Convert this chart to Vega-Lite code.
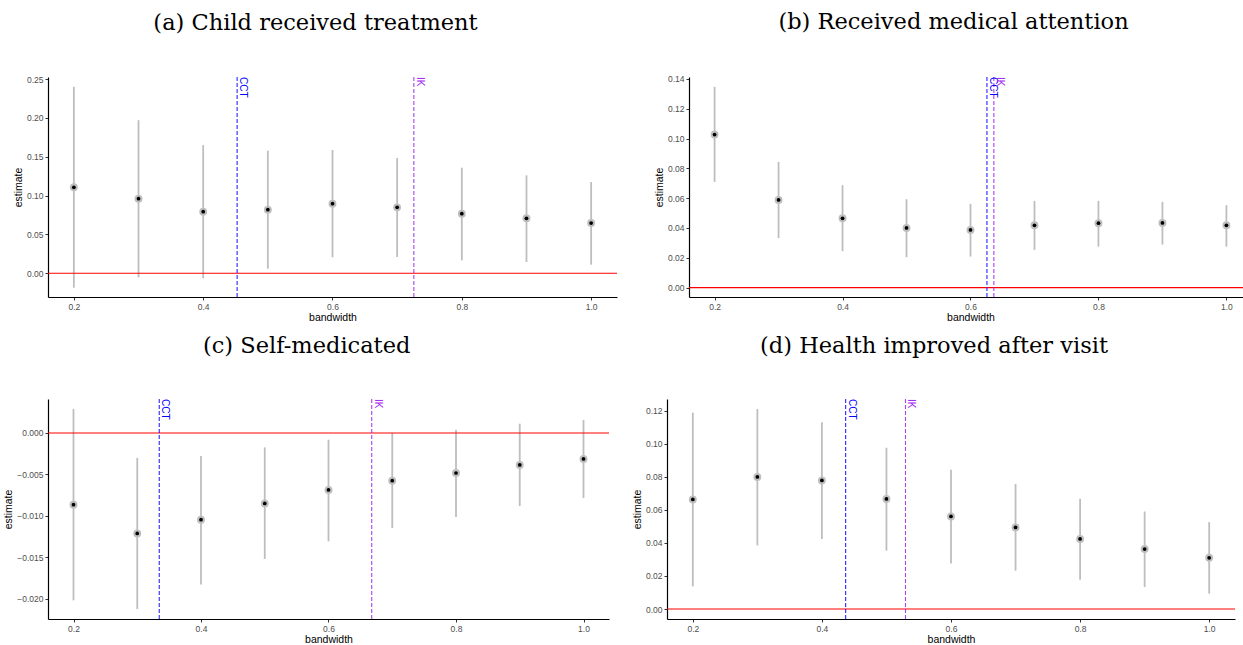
{
  "$schema": "https://vega.github.io/schema/vega-lite/v6.json",
  "background": "white",
  "padding": {"left": 3, "top": 11, "right": 0, "bottom": 0},
  "config": {
    "view": {"stroke": null},
    "axis": {
      "grid": false,
      "domainColor": "#000000",
      "domainWidth": 1.2,
      "tickColor": "#333333",
      "tickSize": 3,
      "tickWidth": 1,
      "labelFont": "Liberation Sans",
      "labelFontSize": 8.5,
      "labelColor": "#4d4d4d",
      "labelPadding": 2,
      "labelOverlap": false,
      "titleFont": "Liberation Sans",
      "titleFontSize": 10.5,
      "titleFontWeight": "normal",
      "titleColor": "#000000",
      "titlePadding": 3
    },
    "axisX": {"titlePadding": 1.5},
    "title": {
      "font": "DejaVu Serif",
      "fontSize": 22.5,
      "fontWeight": "normal",
      "color": "#000000",
      "anchor": "middle",
      "frame": "bounds",
      "baseline": "alphabetic",
      "offset": 41
    }
  },
  "datasets": {
    "estimates": [
      {"panel": "a", "bandwidth": 0.2, "estimate": 0.1107, "lower": -0.0185, "upper": 0.240},
      {"panel": "a", "bandwidth": 0.3, "estimate": 0.0960, "lower": -0.0052, "upper": 0.197},
      {"panel": "a", "bandwidth": 0.4, "estimate": 0.0793, "lower": -0.0064, "upper": 0.165},
      {"panel": "a", "bandwidth": 0.5, "estimate": 0.0819, "lower": 0.0059, "upper": 0.1578},
      {"panel": "a", "bandwidth": 0.6, "estimate": 0.0896, "lower": 0.0206, "upper": 0.1587},
      {"panel": "a", "bandwidth": 0.7, "estimate": 0.0849, "lower": 0.0210, "upper": 0.1484},
      {"panel": "a", "bandwidth": 0.8, "estimate": 0.0767, "lower": 0.0167, "upper": 0.1359},
      {"panel": "a", "bandwidth": 0.9, "estimate": 0.0708, "lower": 0.0145, "upper": 0.1261},
      {"panel": "a", "bandwidth": 1.0, "estimate": 0.0647, "lower": 0.0111, "upper": 0.1175},
      {"panel": "b", "bandwidth": 0.2, "estimate": 0.1027, "lower": 0.0709, "upper": 0.1347},
      {"panel": "b", "bandwidth": 0.3, "estimate": 0.0588, "lower": 0.0333, "upper": 0.0843},
      {"panel": "b", "bandwidth": 0.4, "estimate": 0.0465, "lower": 0.0244, "upper": 0.0687},
      {"panel": "b", "bandwidth": 0.5, "estimate": 0.0400, "lower": 0.0204, "upper": 0.0593},
      {"panel": "b", "bandwidth": 0.6, "estimate": 0.0387, "lower": 0.0208, "upper": 0.0562},
      {"panel": "b", "bandwidth": 0.7, "estimate": 0.0418, "lower": 0.0253, "upper": 0.0582},
      {"panel": "b", "bandwidth": 0.8, "estimate": 0.0432, "lower": 0.0275, "upper": 0.0582},
      {"panel": "b", "bandwidth": 0.9, "estimate": 0.0434, "lower": 0.0289, "upper": 0.0575},
      {"panel": "b", "bandwidth": 1.0, "estimate": 0.0418, "lower": 0.0275, "upper": 0.0553},
      {"panel": "c", "bandwidth": 0.2, "estimate": -0.00866, "lower": -0.0202, "upper": 0.0029},
      {"panel": "c", "bandwidth": 0.3, "estimate": -0.01212, "lower": -0.02125, "upper": -0.0030},
      {"panel": "c", "bandwidth": 0.4, "estimate": -0.01047, "lower": -0.01828, "upper": -0.00278},
      {"panel": "c", "bandwidth": 0.5, "estimate": -0.0085, "lower": -0.01521, "upper": -0.00174},
      {"panel": "c", "bandwidth": 0.6, "estimate": -0.00688, "lower": -0.01308, "upper": -0.00081},
      {"panel": "c", "bandwidth": 0.7, "estimate": -0.00576, "lower": -0.01147, "upper": 0.0000},
      {"panel": "c", "bandwidth": 0.8, "estimate": -0.00483, "lower": -0.01014, "upper": 0.0004},
      {"panel": "c", "bandwidth": 0.9, "estimate": -0.00386, "lower": -0.00881, "upper": 0.00112},
      {"panel": "c", "bandwidth": 1.0, "estimate": -0.00314, "lower": -0.00785, "upper": 0.00157},
      {"panel": "d", "bandwidth": 0.2, "estimate": 0.0663, "lower": 0.0137, "upper": 0.1188},
      {"panel": "d", "bandwidth": 0.3, "estimate": 0.0799, "lower": 0.0385, "upper": 0.1210},
      {"panel": "d", "bandwidth": 0.4, "estimate": 0.0778, "lower": 0.0424, "upper": 0.1131},
      {"panel": "d", "bandwidth": 0.5, "estimate": 0.0666, "lower": 0.0353, "upper": 0.0976},
      {"panel": "d", "bandwidth": 0.6, "estimate": 0.0560, "lower": 0.0276, "upper": 0.0843},
      {"panel": "d", "bandwidth": 0.7, "estimate": 0.0494, "lower": 0.0232, "upper": 0.0756},
      {"panel": "d", "bandwidth": 0.8, "estimate": 0.0424, "lower": 0.0177, "upper": 0.0667},
      {"panel": "d", "bandwidth": 0.9, "estimate": 0.0363, "lower": 0.0133, "upper": 0.0590},
      {"panel": "d", "bandwidth": 1.0, "estimate": 0.0310, "lower": 0.0093, "upper": 0.0526}
    ],
    "cutoffs": [
      {"panel": "a", "method": "CCT", "bandwidth": 0.4525},
      {"panel": "a", "method": "IK", "bandwidth": 0.7258},
      {"panel": "b", "method": "CCT", "bandwidth": 0.6257},
      {"panel": "b", "method": "IK", "bandwidth": 0.6365},
      {"panel": "c", "method": "CCT", "bandwidth": 0.3345},
      {"panel": "c", "method": "IK", "bandwidth": 0.6678},
      {"panel": "d", "method": "CCT", "bandwidth": 0.4368},
      {"panel": "d", "method": "IK", "bandwidth": 0.5295}
    ],
    "zero": [{"value": 0}]
  },
  "vconcat": [
    {
      "hconcat": [
        {
          "title": {"text": "(a) Child received treatment"},
          "width": 569, "height": 220,
          "layer": [
            {"data": {"name": "estimates"}, "transform": [{"filter": "datum.panel === 'a'"}],
             "mark": {"type": "rule", "color": "#bebebe", "strokeWidth": 1.8},
             "encoding": {
               "x": {"field": "bandwidth", "type": "quantitative", "scale": {"domain": [0.16, 1.04], "nice": false, "zero": false}, "axis": {"title": "bandwidth", "values": [0.2, 0.4, 0.6, 0.8, 1.0], "format": ".1f", "labelOverlap": false}},
               "y": {"field": "lower", "type": "quantitative", "scale": {"domain": [-0.0305, 0.2526], "nice": false, "zero": false}, "axis": {"title": "estimate", "values": [0, 0.05, 0.1, 0.15, 0.2, 0.25], "format": ".2f", "labelOverlap": false}},
               "y2": {"field": "upper"}}},
            {"data": {"name": "zero"}, "mark": {"type": "rule", "color": "#ff0000", "strokeWidth": 1.1},
             "encoding": {"y": {"field": "value", "type": "quantitative"}}},
            {"data": {"name": "cutoffs"}, "transform": [{"filter": "datum.panel === 'a'"}],
             "mark": {"type": "rule", "strokeDash": [4, 2], "strokeWidth": 1.1, "opacity": 0.85},
             "encoding": {"x": {"field": "bandwidth", "type": "quantitative"},
               "color": {"field": "method", "type": "nominal", "scale": {"domain": ["CCT", "IK"], "range": ["#0000ff", "#a020f0"]}, "legend": null}}},
            {"data": {"name": "cutoffs"}, "transform": [{"filter": "datum.panel === 'a'"}],
             "mark": {"type": "text", "angle": 90, "align": "left", "baseline": "bottom", "font": "Liberation Sans", "fontSize": 10, "dy": -1},
             "encoding": {"x": {"field": "bandwidth", "type": "quantitative"}, "y": {"datum": 0.2526}, "text": {"field": "method"},
               "color": {"field": "method", "type": "nominal", "scale": {"domain": ["CCT", "IK"], "range": ["#0000ff", "#a020f0"]}, "legend": null}}},
            {"data": {"name": "estimates"}, "transform": [{"filter": "datum.panel === 'a'"}],
             "mark": {"type": "circle", "color": "#bebebe", "opacity": 1, "size": 62},
             "encoding": {"x": {"field": "bandwidth", "type": "quantitative"}, "y": {"field": "estimate", "type": "quantitative"}}},
            {"data": {"name": "estimates"}, "transform": [{"filter": "datum.panel === 'a'"}],
             "mark": {"type": "circle", "color": "#000000", "opacity": 1, "size": 14},
             "encoding": {"x": {"field": "bandwidth", "type": "quantitative"}, "y": {"field": "estimate", "type": "quantitative"}}}
          ]
        },
        {
          "title": {"text": "(b) Received medical attention"},
          "width": 563, "height": 220,
          "layer": [
            {"data": {"name": "estimates"}, "transform": [{"filter": "datum.panel === 'b'"}],
             "mark": {"type": "rule", "color": "#bebebe", "strokeWidth": 1.8},
             "encoding": {
               "x": {"field": "bandwidth", "type": "quantitative", "scale": {"domain": [0.16, 1.04], "nice": false, "zero": false}, "axis": {"title": "bandwidth", "values": [0.2, 0.4, 0.6, 0.8, 1.0], "format": ".1f", "labelOverlap": false}},
               "y": {"field": "lower", "type": "quantitative", "scale": {"domain": [-0.0063, 0.1413], "nice": false, "zero": false}, "axis": {"title": "estimate", "values": [0, 0.02, 0.04, 0.06, 0.08, 0.1, 0.12, 0.14], "format": ".2f", "labelOverlap": false, "tickCount": 8}},
               "y2": {"field": "upper"}}},
            {"data": {"name": "zero"}, "mark": {"type": "rule", "color": "#ff0000", "strokeWidth": 1.1},
             "encoding": {"y": {"field": "value", "type": "quantitative"}}},
            {"data": {"name": "cutoffs"}, "transform": [{"filter": "datum.panel === 'b'"}],
             "mark": {"type": "rule", "strokeDash": [4, 2], "strokeWidth": 1.1, "opacity": 0.85},
             "encoding": {"x": {"field": "bandwidth", "type": "quantitative"},
               "color": {"field": "method", "type": "nominal", "scale": {"domain": ["CCT", "IK"], "range": ["#0000ff", "#a020f0"]}, "legend": null}}},
            {"data": {"name": "cutoffs"}, "transform": [{"filter": "datum.panel === 'b'"}],
             "mark": {"type": "text", "angle": 90, "align": "left", "baseline": "bottom", "font": "Liberation Sans", "fontSize": 10, "dy": -1},
             "encoding": {"x": {"field": "bandwidth", "type": "quantitative"}, "y": {"datum": 0.1413}, "text": {"field": "method"},
               "color": {"field": "method", "type": "nominal", "scale": {"domain": ["CCT", "IK"], "range": ["#0000ff", "#a020f0"]}, "legend": null}}},
            {"data": {"name": "estimates"}, "transform": [{"filter": "datum.panel === 'b'"}],
             "mark": {"type": "circle", "color": "#bebebe", "opacity": 1, "size": 62},
             "encoding": {"x": {"field": "bandwidth", "type": "quantitative"}, "y": {"field": "estimate", "type": "quantitative"}}},
            {"data": {"name": "estimates"}, "transform": [{"filter": "datum.panel === 'b'"}],
             "mark": {"type": "circle", "color": "#000000", "opacity": 1, "size": 14},
             "encoding": {"x": {"field": "bandwidth", "type": "quantitative"}, "y": {"field": "estimate", "type": "quantitative"}}}
          ]
        }
      ],
      "spacing": 36
    },
    {
      "hconcat": [
        {
          "title": {"text": "(c) Self-medicated"},
          "width": 561, "height": 220,
          "layer": [
            {"data": {"name": "estimates"}, "transform": [{"filter": "datum.panel === 'c'"}],
             "mark": {"type": "rule", "color": "#bebebe", "strokeWidth": 1.8},
             "encoding": {
               "x": {"field": "bandwidth", "type": "quantitative", "scale": {"domain": [0.16, 1.04], "nice": false, "zero": false}, "axis": {"title": "bandwidth", "values": [0.2, 0.4, 0.6, 0.8, 1.0], "format": ".1f", "labelOverlap": false}},
               "y": {"field": "lower", "type": "quantitative", "scale": {"domain": [-0.02245, 0.0041], "nice": false, "zero": false}, "axis": {"title": "estimate", "values": [0, -0.005, -0.01, -0.015, -0.02], "format": ".3f", "labelOverlap": false}},
               "y2": {"field": "upper"}}},
            {"data": {"name": "zero"}, "mark": {"type": "rule", "color": "#ff0000", "strokeWidth": 1.1},
             "encoding": {"y": {"field": "value", "type": "quantitative"}}},
            {"data": {"name": "cutoffs"}, "transform": [{"filter": "datum.panel === 'c'"}],
             "mark": {"type": "rule", "strokeDash": [4, 2], "strokeWidth": 1.1, "opacity": 0.85},
             "encoding": {"x": {"field": "bandwidth", "type": "quantitative"},
               "color": {"field": "method", "type": "nominal", "scale": {"domain": ["CCT", "IK"], "range": ["#0000ff", "#a020f0"]}, "legend": null}}},
            {"data": {"name": "cutoffs"}, "transform": [{"filter": "datum.panel === 'c'"}],
             "mark": {"type": "text", "angle": 90, "align": "left", "baseline": "bottom", "font": "Liberation Sans", "fontSize": 10, "dy": -1},
             "encoding": {"x": {"field": "bandwidth", "type": "quantitative"}, "y": {"datum": 0.0041}, "text": {"field": "method"},
               "color": {"field": "method", "type": "nominal", "scale": {"domain": ["CCT", "IK"], "range": ["#0000ff", "#a020f0"]}, "legend": null}}},
            {"data": {"name": "estimates"}, "transform": [{"filter": "datum.panel === 'c'"}],
             "mark": {"type": "circle", "color": "#bebebe", "opacity": 1, "size": 62},
             "encoding": {"x": {"field": "bandwidth", "type": "quantitative"}, "y": {"field": "estimate", "type": "quantitative"}}},
            {"data": {"name": "estimates"}, "transform": [{"filter": "datum.panel === 'c'"}],
             "mark": {"type": "circle", "color": "#000000", "opacity": 1, "size": 14},
             "encoding": {"x": {"field": "bandwidth", "type": "quantitative"}, "y": {"field": "estimate", "type": "quantitative"}}}
          ]
        },
        {
          "title": {"text": "(d) Health improved after visit"},
          "width": 568, "height": 220,
          "layer": [
            {"data": {"name": "estimates"}, "transform": [{"filter": "datum.panel === 'd'"}],
             "mark": {"type": "rule", "color": "#bebebe", "strokeWidth": 1.8},
             "encoding": {
               "x": {"field": "bandwidth", "type": "quantitative", "scale": {"domain": [0.16, 1.04], "nice": false, "zero": false}, "axis": {"title": "bandwidth", "values": [0.2, 0.4, 0.6, 0.8, 1.0], "format": ".1f", "labelOverlap": false}},
               "y": {"field": "lower", "type": "quantitative", "scale": {"domain": [-0.00605, 0.1271], "nice": false, "zero": false}, "axis": {"title": "estimate", "values": [0, 0.02, 0.04, 0.06, 0.08, 0.1, 0.12], "format": ".2f", "labelOverlap": false, "tickCount": 7}},
               "y2": {"field": "upper"}}},
            {"data": {"name": "zero"}, "mark": {"type": "rule", "color": "#ff0000", "strokeWidth": 1.1},
             "encoding": {"y": {"field": "value", "type": "quantitative"}}},
            {"data": {"name": "cutoffs"}, "transform": [{"filter": "datum.panel === 'd'"}],
             "mark": {"type": "rule", "strokeDash": [4, 2], "strokeWidth": 1.1, "opacity": 0.85},
             "encoding": {"x": {"field": "bandwidth", "type": "quantitative"},
               "color": {"field": "method", "type": "nominal", "scale": {"domain": ["CCT", "IK"], "range": ["#0000ff", "#a020f0"]}, "legend": null}}},
            {"data": {"name": "cutoffs"}, "transform": [{"filter": "datum.panel === 'd'"}],
             "mark": {"type": "text", "angle": 90, "align": "left", "baseline": "bottom", "font": "Liberation Sans", "fontSize": 10, "dy": -1},
             "encoding": {"x": {"field": "bandwidth", "type": "quantitative"}, "y": {"datum": 0.1271}, "text": {"field": "method"},
               "color": {"field": "method", "type": "nominal", "scale": {"domain": ["CCT", "IK"], "range": ["#0000ff", "#a020f0"]}, "legend": null}}},
            {"data": {"name": "estimates"}, "transform": [{"filter": "datum.panel === 'd'"}],
             "mark": {"type": "circle", "color": "#bebebe", "opacity": 1, "size": 62},
             "encoding": {"x": {"field": "bandwidth", "type": "quantitative"}, "y": {"field": "estimate", "type": "quantitative"}}},
            {"data": {"name": "estimates"}, "transform": [{"filter": "datum.panel === 'd'"}],
             "mark": {"type": "circle", "color": "#000000", "opacity": 1, "size": 14},
             "encoding": {"x": {"field": "bandwidth", "type": "quantitative"}, "y": {"field": "estimate", "type": "quantitative"}}}
          ]
        }
      ],
      "spacing": 22
    }
  ],
  "spacing": 11
}
